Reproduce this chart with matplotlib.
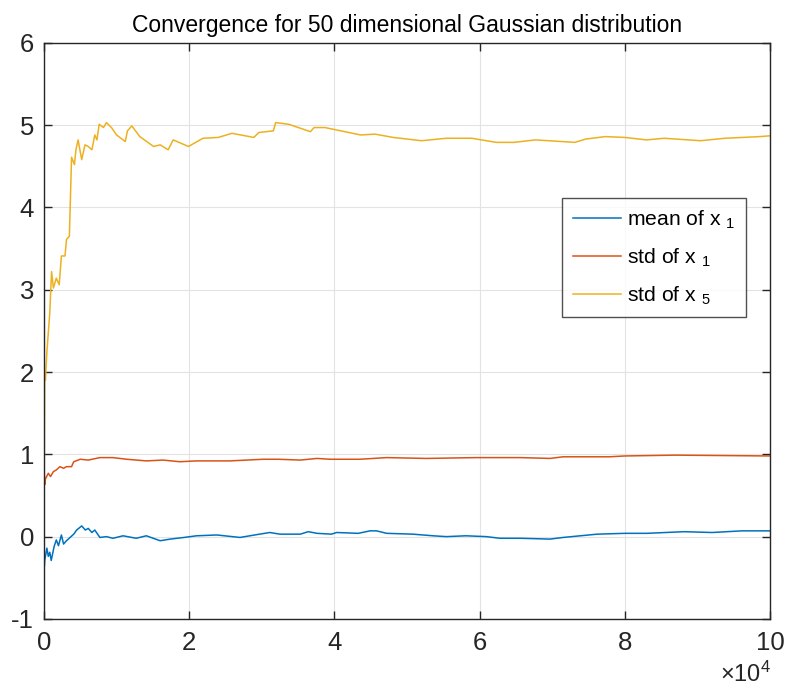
import matplotlib.pyplot as plt

# iteration counts are given in units of 1e4
mean_x = [0.0, 0.005, 0.01, 0.04, 0.06, 0.08, 0.10, 0.14, 0.17, 0.20, 0.24, 0.27, 0.31,
          0.36, 0.41, 0.45, 0.52, 0.57, 0.61, 0.66, 0.70, 0.77, 0.86, 0.95, 1.09, 1.27,
          1.41, 1.60, 1.74, 1.93, 2.10, 2.38, 2.70, 2.97, 3.11, 3.25, 3.53, 3.64, 3.76,
          3.96, 4.03, 4.33, 4.49, 4.58, 4.72, 5.08, 5.36, 5.54, 5.81, 6.09, 6.28, 6.56,
          6.97, 7.15, 7.62, 8.0, 8.3, 8.82, 9.2, 9.61, 10.0]
mean_y = [0.0, -0.36, -0.29, -0.14, -0.24, -0.19, -0.29, -0.12, -0.04, -0.11, 0.02, -0.09,
          -0.05, -0.01, 0.03, 0.08, 0.13, 0.08, 0.10, 0.05, 0.08, -0.01, 0.0, -0.02, 0.01,
          -0.02, 0.01, -0.05, -0.03, -0.01, 0.01, 0.02, -0.01, 0.03, 0.05, 0.03, 0.03,
          0.06, 0.04, 0.03, 0.05, 0.04, 0.07, 0.07, 0.04, 0.03, 0.01, 0.0, 0.01, 0.0,
          -0.02, -0.02, -0.03, -0.01, 0.03, 0.04, 0.04, 0.06, 0.05, 0.07, 0.07]

std1_x = [0.0, 0.003, 0.01, 0.02, 0.06, 0.09, 0.13, 0.17, 0.22, 0.27, 0.31, 0.38, 0.41,
          0.50, 0.61, 0.77, 0.95, 1.14, 1.41, 1.64, 1.87, 2.10, 2.56, 2.79, 3.02, 3.23,
          3.53, 3.76, 3.94, 4.35, 4.72, 5.27, 5.95, 6.56, 6.97, 7.15, 7.79, 8.0, 8.7, 10.0]
std1_y = [0.0, 0.81, 0.63, 0.70, 0.77, 0.73, 0.79, 0.81, 0.85, 0.83, 0.85, 0.85, 0.91,
          0.94, 0.93, 0.96, 0.96, 0.94, 0.92, 0.93, 0.91, 0.92, 0.92, 0.93, 0.94, 0.94,
          0.93, 0.95, 0.94, 0.94, 0.96, 0.95, 0.96, 0.96, 0.95, 0.97, 0.97, 0.98, 0.99, 0.98]

std5_x = [0.0, 0.01, 0.02, 0.04, 0.08, 0.105, 0.13, 0.17, 0.21, 0.24, 0.29, 0.31, 0.35,
          0.38, 0.42, 0.44, 0.47, 0.52, 0.565, 0.61, 0.66, 0.70, 0.73, 0.76, 0.82, 0.86,
          0.93, 1.00, 1.12, 1.15, 1.21, 1.32, 1.51, 1.60, 1.71, 1.78, 1.99, 2.19, 2.40,
          2.59, 2.89, 2.96, 3.16, 3.19, 3.37, 3.67, 3.72, 3.87, 4.36, 4.56, 4.81, 5.20,
          5.54, 5.89, 6.23, 6.47, 6.77, 7.31, 7.46, 7.73, 8.0, 8.30, 8.54, 9.04, 9.38,
          9.86, 10.0]
std5_y = [0.0, 1.97, 1.90, 2.24, 2.72, 3.22, 3.02, 3.14, 3.06, 3.41, 3.41, 3.61, 3.65,
          4.61, 4.52, 4.70, 4.82, 4.58, 4.76, 4.74, 4.70, 4.88, 4.82, 5.01, 4.97, 5.03,
          4.97, 4.88, 4.80, 4.93, 4.99, 4.86, 4.74, 4.76, 4.70, 4.82, 4.74, 4.84, 4.85,
          4.90, 4.85, 4.91, 4.93, 5.03, 5.01, 4.92, 4.97, 4.97, 4.88, 4.89, 4.85, 4.81,
          4.84, 4.84, 4.79, 4.79, 4.82, 4.79, 4.83, 4.86, 4.85, 4.82, 4.84, 4.81, 4.84,
          4.86, 4.87]

labels = ["mean of x $_1$", "std of x $_1$", "std of x $_5$"]
colors = ["#0072BD", "#D95319", "#EDB120"]
xticks = [0, 2, 4, 6, 8, 10]
yticks = [-1, 0, 1, 2, 3, 4, 5, 6]

font = "Liberation Sans"
plt.rcParams["font.family"] = [font, "DejaVu Sans"]
plt.rcParams["mathtext.fontset"] = "custom"
plt.rcParams["mathtext.rm"] = font
plt.rcParams["mathtext.it"] = font
plt.rcParams["axes.unicode_minus"] = False

fig = plt.figure(figsize=(7.85, 6.9), dpi=100)
ax = fig.add_axes([0.056, 0.103, 0.925, 0.835])

for xs, ys, c, lab in zip([mean_x, std1_x, std5_x], [mean_y, std1_y, std5_y], colors, labels):
    ax.plot(xs, ys, color=c, lw=1.1, label=lab)

ax.set_xlim(0, 10)
ax.set_ylim(-1, 6)
ax.set_xticks(xticks)
ax.set_yticks(yticks)

ax.grid(True, color="#e3e3e3", lw=0.8)
ax.set_axisbelow(True)
for s in ax.spines.values():
    s.set_color("#262626")
    s.set_linewidth(1.0)
ax.tick_params(direction="in", length=6, width=1.0, top=True, right=True,
               labelsize=18.5, colors="#262626")
ax.tick_params(axis="x", pad=9)
ax.tick_params(axis="y", pad=7)

ax.set_title("Convergence for 50 dimensional Gaussian distribution", fontsize=16.5, pad=8)
fig.text(0.982, 0.004, r"$\times10^{4}$", ha="right", va="bottom", fontsize=17,
         color="#262626")

leg = ax.legend(loc="upper left", bbox_to_anchor=(0.7135, 0.731), borderaxespad=0,
                fontsize=15.2, handlelength=2.3, frameon=True, fancybox=False,
                borderpad=0.5, labelspacing=0.75, handletextpad=0.3)
leg.get_frame().set_edgecolor("#262626")
leg.get_frame().set_linewidth(1.0)

fig.savefig("out.png", dpi=100)
